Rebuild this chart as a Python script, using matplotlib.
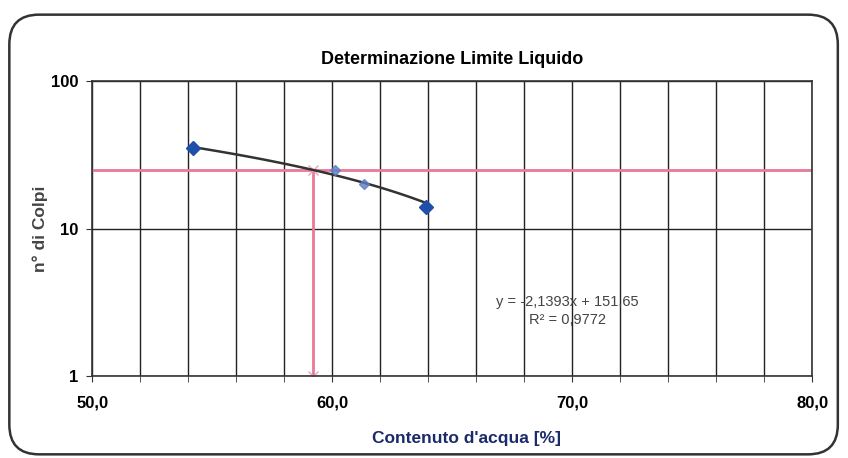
import numpy as np
import matplotlib.pyplot as plt
from matplotlib.patches import FancyBboxPatch

plt.rcParams['font.family'] = ['Liberation Sans', 'DejaVu Sans']

# prove di Casagrande: contenuto d'acqua [%] e numero di colpi
acqua = [54.2, 60.1, 61.3, 63.9]
colpi = [35, 25, 20, 14]
acqua_deboli = [60.1, 61.3]
colpi_deboli = [25, 20]

# retta di regressione (Excel) y = a*x + b
a, b = -2.1393, 151.65
r2 = 0.9772
colpi_ll = 25
ll = (b - colpi_ll) / -a   # limite liquido a 25 colpi

fig = plt.figure(figsize=(8.48, 4.58), dpi=100)
ax = fig.add_axes([0.109, 0.178, 0.849, 0.645])

# cornice arrotondata del grafico
frame = FancyBboxPatch((0.011, 0.008), 0.977, 0.96, boxstyle="round,pad=0,rounding_size=0.035",
                       transform=fig.transFigure, fill=False, edgecolor='#333333', lw=1.8,
                       mutation_aspect=848 / 458)
fig.patches.append(frame)

ax.set_yscale('log')
ax.set_xlim(50, 80)
ax.set_ylim(1, 100)
ax.set_xticks(np.arange(50, 81, 2), minor=True)
ax.set_xticks([50, 60, 70, 80])
ax.set_xticklabels(['50,0', '60,0', '70,0', '80,0'], fontsize=12, fontweight='bold')
ax.set_yticks([1, 10, 100])
ax.set_yticklabels(['1', '10', '100'], fontsize=12, fontweight='bold')
ax.yaxis.set_minor_locator(plt.NullLocator())
ax.grid(True, which='both', axis='x', color='#222222', lw=1.0)
ax.grid(True, which='major', axis='y', color='#222222', lw=1.0)
ax.tick_params(which='both', length=4, color='#333333', pad=6)
ax.tick_params(axis='x', which='major', pad=10)
for s in ax.spines.values():
    s.set_color('#333333')
    s.set_linewidth(1.2)

# linee di lettura del limite liquido
ax.axhline(colpi_ll, color='#e87a98', lw=2.0, zorder=2)
ax.plot([ll, ll], [1, colpi_ll], color='#e87a98', lw=2.0, zorder=2)
ax.plot([ll, ll], [1, colpi_ll], ls='none', marker='x', ms=7, color='#f0a0b8', zorder=2)

# linea di tendenza
xt = np.linspace(acqua[0], acqua[-1], 50)
ax.plot(xt, a * xt + b, color='#333333', lw=1.8, zorder=3)

ax.plot(acqua[::3], colpi[::3], ls='none', marker='D', ms=7, color='#1f4fa8', zorder=4)
ax.plot(acqua_deboli, colpi_deboli, ls='none', marker='D', ms=5, color='#5b7ec2', alpha=0.8, zorder=4)

ax.text(69.8, 3.2, f'y = {a:.4f}x + {b:.2f}'.replace('.', ','), fontsize=10.5, color='#444444',
        ha='center', va='center')
ax.text(69.8, 2.42, f'R² = {r2:.4f}'.replace('.', ','), fontsize=10.5, color='#444444',
        ha='center', va='center')

ax.set_title('Determinazione Limite Liquido', fontsize=13, fontweight='bold', pad=12)
ax.set_ylabel('n° di Colpi', fontsize=12.5, fontweight='bold', color='#444444')
ax.yaxis.set_label_coords(-0.062, 0.5)
ax.set_xlabel("Contenuto d'acqua [%]", fontsize=12.5, fontweight='bold', color='#1a2a6a')
ax.xaxis.set_label_coords(0.52, -0.185)

fig.savefig('out.png', dpi=100)
